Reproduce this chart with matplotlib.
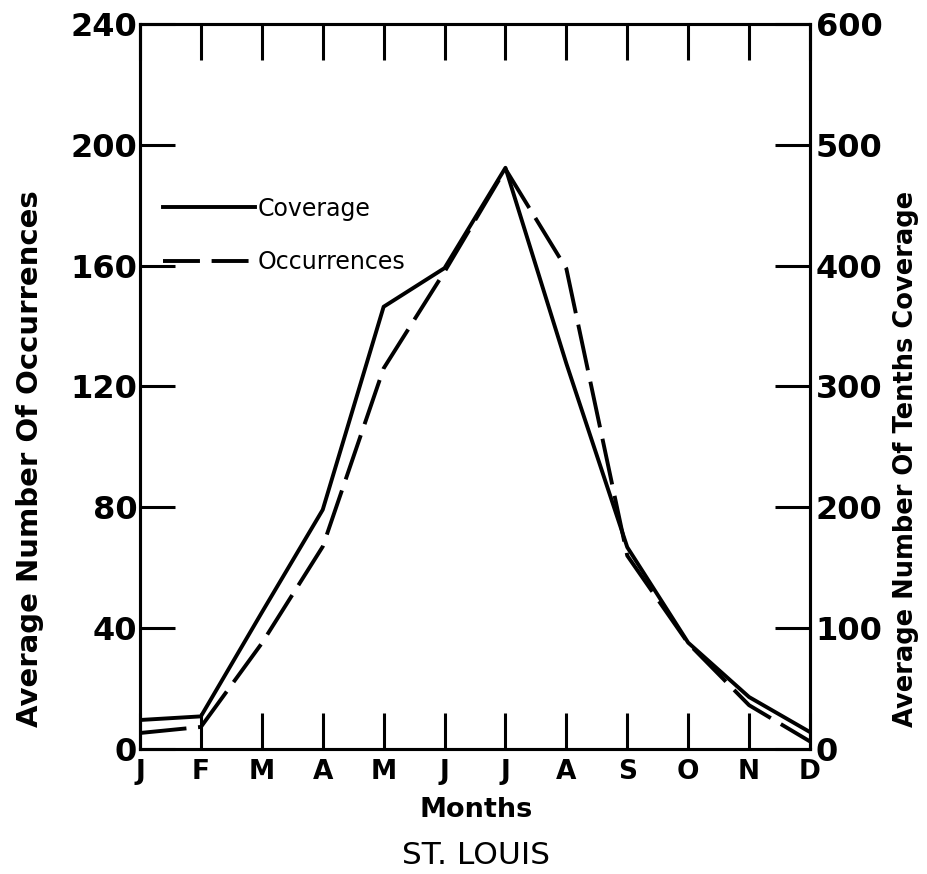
import matplotlib
matplotlib.use("Agg")
import matplotlib.pyplot as plt

# St. Louis monthly values
months = ["J", "F", "M", "A", "M", "J", "J", "A", "S", "O", "N", "D"]
occurrences = [5.3, 7.3, 35, 67, 126, 158, 192, 159, 64, 35, 14.5, 2.5]   # left axis
coverage = [24, 27, 113, 198, 366, 398, 481, 319, 167, 88, 43, 14]       # right axis (tenths)

left_ticks = [0, 40, 80, 120, 160, 200, 240]
right_ticks = [0, 100, 200, 300, 400, 500, 600]

FONT = ["DejaVu Sans"]

fig = plt.figure(figsize=(9.27, 8.74), dpi=100)
ax = fig.add_axes([140 / 927, 1 - 749 / 874, 670 / 927, 725 / 874])
ax2 = ax.twinx()

x = list(range(len(months)))
ax.plot(x, occurrences, color="black", lw=2.8, dashes=(12, 3), solid_capstyle="butt")
ax2.plot(x, coverage, color="black", lw=2.8)

ax.set_xlim(0, len(months) - 1)
ax.set_ylim(0, 240)
ax2.set_ylim(0, 600)

ax.set_xticks(x)
ax.set_xticklabels(months, fontsize=19, fontweight="bold", family=FONT)
ax.set_yticks(left_ticks)
ax.set_yticklabels([str(v) for v in left_ticks], fontsize=23, fontweight="bold", family=FONT)
ax2.set_yticks(right_ticks)
ax2.set_yticklabels([str(v) for v in right_ticks], fontsize=23, fontweight="bold", family=FONT)

ax.tick_params(axis="x", direction="in", length=26, width=2.2, pad=7, top=True)
ax.tick_params(axis="y", direction="in", length=25, width=2.2, pad=2)
ax2.tick_params(axis="y", direction="in", length=25, width=2.2, pad=4)

for a in (ax, ax2):
    for s in a.spines.values():
        s.set_linewidth(2.2)

ax.set_xlabel("Months", fontsize=19.5, fontweight="bold", family=FONT)
ax.xaxis.set_label_coords(0.501, -0.066)
ax.set_ylabel("Average Number Of Occurrences", fontsize=21, fontweight="bold", family=FONT)
ax.yaxis.set_label_coords(-0.143, 0.40)
ax2.set_ylabel("Average Number Of Tenths Coverage", fontsize=18.5, fontweight="bold", family=FONT)
ax2.yaxis.set_label_coords(1.124, 0.40)

# legend, built from the two line styles
h_cov, = ax.plot([], [], color="black", lw=2.8)
h_occ, = ax.plot([], [], color="black", lw=2.8, dashes=(9.5, 3))
ax.legend([h_cov, h_occ], ["Coverage", "Occurrences"], loc="upper left",
          bbox_to_anchor=(0.034, 0.762), frameon=False, borderpad=0, borderaxespad=0,
          handlelength=3.9, handletextpad=0.13, labelspacing=1.25,
          prop={"family": FONT, "size": 17})

fig.text(476 / 927, 1 - 856 / 874, "ST. LOUIS", ha="center", va="center",
         fontsize=22.5, family=FONT)

fig.savefig("out.png", dpi=100)
